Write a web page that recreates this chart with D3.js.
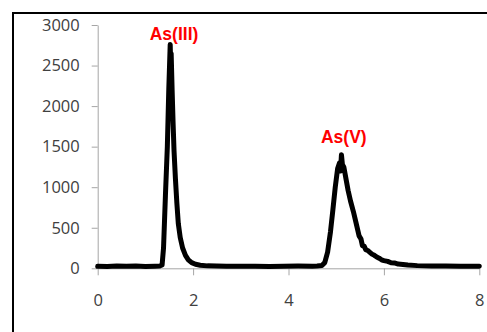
<!DOCTYPE html>
<html>
<head>
<meta charset="utf-8">
<script src="https://cdn.jsdelivr.net/npm/d3@7"></script>
<style>
  html, body { margin: 0; padding: 0; background: #fff; }
  svg { display: block; }
</style>
</head>
<body>
<svg id="chart" width="487" height="332"></svg>
<script>
// Retention time (min)
const time = [
  0.00, 0.20, 0.40, 0.60, 0.80, 1.00, 1.20, 1.30, 1.35, 1.38, 1.42, 1.46, 1.49, 1.52, 1.53,
  1.54, 1.56, 1.58, 1.60, 1.63, 1.66, 1.69, 1.73, 1.78, 1.84, 1.90, 1.97, 2.05, 2.15, 2.30, 2.50,
  2.70, 3.00, 3.30, 3.60, 3.90, 4.20, 4.50, 4.60, 4.70, 4.76, 4.82, 4.88, 4.93, 4.98, 5.03,
  5.07, 5.09, 5.11, 5.13, 5.16, 5.20, 5.25, 5.30, 5.36, 5.42, 5.48, 5.52, 5.55, 5.59, 5.62,
  5.66, 5.70, 5.75, 5.80, 5.85, 5.90, 5.95, 6.00, 6.08, 6.15, 6.22, 6.30, 6.40, 6.50, 6.70,
  7.00, 7.30, 7.60, 8.00
];
// Signal intensity
const signal = [
  25, 22, 28, 24, 27, 23, 26, 28, 40, 250, 900, 1500, 2200, 2760, 2500,
  2650, 2200, 1800, 1450, 1100, 800, 550, 380, 250, 160, 105, 70, 50, 38, 30, 28,
  25, 24, 26, 23, 25, 27, 26, 28, 35, 70, 200, 450, 720, 1000, 1230,
  1300, 1200, 1400, 1280, 1250, 1120, 960, 830, 700, 550, 400, 360, 280, 270, 230,
  220, 200, 175, 160, 140, 125, 105, 95, 85, 68, 66, 52, 48, 40, 33,
  28, 28, 26, 25
];
const xTicks = [0, 2, 4, 6, 8];
const yTicks = [0, 500, 1000, 1500, 2000, 2500, 3000];
const peakLabels = ["As(III)", "As(V)"];
const peakTimes = [1.60, 5.16];
const peakLabelValues = [2818, 1551];

const svg = d3.select("#chart");

// outer frame (top and left edges visible)
svg.append("rect")
  .attr("x", 13).attr("y", 13)
  .attr("width", 520).attr("height", 360)
  .attr("fill", "none").attr("stroke", "#000").attr("stroke-width", 2);

const x = d3.scaleLinear().domain([0, 8]).range([97.7, 479.3]);
const y = d3.scaleLinear().domain([0, 3000]).range([268.3, 25]);

const axisColor = "#a6a6a6";
const font = "'Open Sans', 'Liberation Sans', sans-serif";

const yAxis = svg.append("g")
  .attr("transform", `translate(${x(0)},0)`)
  .call(d3.axisLeft(y).tickValues(yTicks).tickFormat(d3.format("d"))
    .tickSize(6).tickPadding(12).tickSizeOuter(0));
const xAxis = svg.append("g")
  .attr("transform", `translate(0,${y(0)})`)
  .call(d3.axisBottom(x).tickValues(xTicks).tickFormat(d3.format("d"))
    .tickSize(7).tickPadding(19).tickSizeOuter(0));

[xAxis, yAxis].forEach(g => {
  g.select(".domain").attr("stroke", axisColor).attr("stroke-width", 1);
  g.selectAll(".tick line").attr("stroke", axisColor).attr("stroke-width", 1);
  g.selectAll(".tick text")
    .attr("fill", "#404040")
    .style("font-family", font)
    .style("font-size", "16.5px");
});

const pts = time.map((t, i) => [t, signal[i]]);
svg.append("path")
  .datum(pts)
  .attr("fill", "none")
  .attr("stroke", "#000")
  .attr("stroke-width", 5)
  .attr("stroke-linejoin", "round")
  .attr("stroke-linecap", "round")
  .attr("d", d3.line().x(d => x(d[0])).y(d => y(d[1])));

svg.selectAll(".peak-label")
  .data(peakLabels)
  .enter().append("text")
  .attr("class", "peak-label")
  .attr("x", (d, i) => x(peakTimes[i]))
  .attr("y", (d, i) => y(peakLabelValues[i]))
  .attr("text-anchor", "middle")
  .attr("fill", "#ff0000")
  .style("font-family", "'Liberation Sans', Arial, sans-serif")
  .style("font-weight", "bold")
  .style("font-size", "17.5px")
  .text(d => d);
</script>
</body>
</html>
